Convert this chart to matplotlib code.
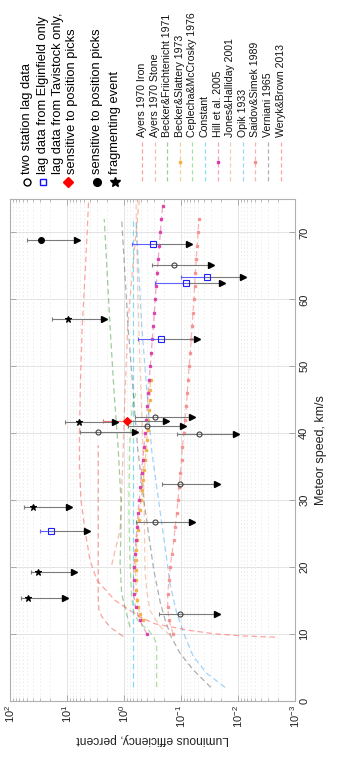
import numpy as np
import matplotlib
matplotlib.use("Agg")
import matplotlib.pyplot as plt

plt.rcParams['font.family'] = ['Liberation Sans', 'DejaVu Sans']
plt.rcParams['mathtext.fontset'] = 'custom'
plt.rcParams['mathtext.rm'] = 'Liberation Sans'
plt.rcParams['mathtext.it'] = 'Liberation Sans:italic'
plt.rcParams['mathtext.bf'] = 'Liberation Sans:bold'
plt.rcParams['lines.scale_dashes'] = False

# measured events: speed (km/s), efficiency, upper end, arrow end (percent)
two_v = [65.2, 42.45, 41.06, 40.1, 39.8, 32.4, 26.7, 12.96]
two_e = [0.134, 0.282, 0.400, 2.86, 0.0483, 0.103, 0.286, 0.104]
two_hi = [0.323, 0.641, 0.839, 5.91, 0.116, 0.213, 0.615, 0.243]
two_lo = [0.0301, 0.0634, 0.0912, 0.641, 0.011, 0.0231, 0.0634, 0.0231]

elg_v = [68.3, 63.4, 62.5, 54.1, 25.3]
elg_e = [0.306, 0.0354, 0.0807, 0.224, 19.3]
elg_hi = [0.733, 0.100, 0.282, 0.561, 29.4]
elg_lo = [0.0714, 0.00805, 0.0188, 0.0518, 4.41]

tav_v = [41.76]
tav_e = [0.875]
tav_hi = [2.31]
tav_lo = [0.183]

pos_v = [68.9]
pos_e = [28.9]
pos_hi = [50.9]
pos_lo = [6.76]

frag_v = [57.1, 41.66, 28.9, 19.3, 15.3]
frag_e = [9.48, 6.15, 40.0, 32.6, 48.3]
frag_hi = [18.5, 10.8, 56.1, 42.9, 64.9]
frag_lo = [2.22, 1.44, 9.22, 7.44, 10.8]

# model curves
ayers_iron_v = [9.6, 11, 12.6, 13.5, 15.5, 20, 25.5, 30, 38.2]
ayers_iron_e = [1.03, 1.76, 2.46, 2.75, 2.83, 2.83, 2.83, 2.83, 2.83]
ayers_stone_v = [20.3, 22.5, 25.5, 30, 38, 45, 56, 65, 74.8]
ayers_stone_e = [1.64, 1.43, 1.17, 1.11, 1.03, 0.97, 0.86, 0.70, 0.54]
becker_fr_v = [11, 12, 16, 20.5, 25.5, 30, 38, 46, 56, 72]
becker_fr_e = [0.785, 0.84, 1.10, 1.17, 1.13, 1.13, 1.27, 1.49, 1.76, 2.22]
becker_sl_v = [12, 13, 14, 15, 16.5, 18, 19.5, 21, 22.5, 24, 25.5, 27, 28.5,
               30, 31.5, 33, 34.5, 36, 37.5, 39, 40.5, 42, 43.5, 45, 46.5, 48]
becker_sl_e = [0.470, 0.524, 0.568, 0.591, 0.608, 0.621, 0.623, 0.621, 0.611,
               0.596, 0.573, 0.550, 0.528, 0.503, 0.480, 0.458, 0.439, 0.423,
               0.411, 0.398, 0.387, 0.375, 0.364, 0.354, 0.347, 0.340]
ceplecha_v = [2, 8.5, 9.6, 10.6, 11.3, 12.3, 13.5, 15.5, 20.5, 25.5, 30, 38, 44, 46]
ceplecha_e = [0.267, 0.267, 0.306, 0.375, 0.489, 0.599, 0.687, 0.733, 0.785,
              0.81, 0.82, 0.80, 0.72, 0.62]
const_v = [2, 72]
const_e = [0.7, 0.7]
hill_v = [10, 12, 14, 16, 18, 20, 22, 24, 26, 28, 30, 32, 34, 36, 38, 40, 42,
          44, 46, 48, 50, 52, 54, 56, 58, 60, 62, 64, 66, 68, 70, 72, 74]
hill_e = [0.400, 0.524, 0.628, 0.681, 0.681, 0.668, 0.641, 0.616, 0.591, 0.564,
          0.539, 0.516, 0.493, 0.470, 0.446, 0.423, 0.406, 0.390, 0.375, 0.360,
          0.346, 0.332, 0.319, 0.306, 0.294, 0.284, 0.272, 0.262, 0.251, 0.240,
          0.230, 0.220, 0.210]
jones_v = [9.8, 11.1, 13.5, 16.5, 19.5, 25, 30, 40, 50, 60, 70, 75]
jones_e = [0.156, 0.233, 0.35, 0.40, 0.428, 0.436, 0.445, 0.473, 0.524, 0.568,
           0.604, 0.615]
opik_v = [2, 4.1, 6.6, 9.6, 13.1, 17.5, 19.5, 37.4, 56, 72]
opik_e = [0.0169, 0.0354, 0.0608, 0.0851, 0.119, 0.156, 0.167, 0.327, 0.489, 0.615]
saidov_v = [10, 12, 14, 16, 18, 20, 22, 24, 26, 28, 30, 32, 34, 36, 38, 40,
            42, 44, 46, 48, 50, 52, 54, 56, 58, 60, 62, 64, 66, 68, 70, 72]
saidov_e = [0.1365, 0.1625, 0.171, 0.171, 0.1625, 0.154, 0.144, 0.134, 0.1264,
            0.119, 0.113, 0.1076, 0.1025, 0.098, 0.0942, 0.0893, 0.0858, 0.0811,
            0.0778, 0.0748, 0.0718, 0.0690, 0.0662, 0.0636, 0.0616, 0.0596,
            0.0577, 0.0558, 0.0541, 0.0522, 0.0503, 0.0483]
verniani_v = [2, 4.6, 7.1, 9.6, 12.1, 14.6, 19.5, 30, 38, 56, 72]
verniani_e = [0.030, 0.061, 0.104, 0.150, 0.19, 0.23, 0.30, 0.45, 0.58, 0.85, 1.10]
weryk_v = [9.5, 9.7, 10.0, 10.5, 11.5, 12.5, 15, 18, 21, 25.5, 30, 35, 40, 48,
           56, 65, 75]
weryk_e = [0.00224, 0.00923, 0.0254, 0.0695, 0.286, 0.524, 1.44, 2.98, 3.95,
           4.83, 5.68, 6.05, 6.05, 5.8, 5.4, 4.73, 4.16]

# label, speeds, values, line colour, marker colour
models = [
    ("Ayers 1970 Iron", ayers_iron_v, ayers_iron_e, "#e0504a", None),
    ("Ayers 1970 Stone", ayers_stone_v, ayers_stone_e, "#f07858", None),
    ("Becker&Friichtenicht 1971", becker_fr_v, becker_fr_e, "#3c9a3c", None),
    ("Becker&Slattery 1973", becker_sl_v, becker_sl_e, "#f0a030", "#f2b040"),
    ("Ceplecha&McCrosky 1976", ceplecha_v, ceplecha_e, "#58c040", None),
    ("Constant", const_v, const_e, "#10c0ec", None),
    ("Hill et al. 2005", hill_v, hill_e, "#e04c8c", "#d83ca8"),
    ("Jones&Halliday 2001", jones_v, jones_e, "#f09868", None),
    ("Opik 1933", opik_v, opik_e, "#4aa8f0", None),
    ("Saidov&Simek 1989", saidov_v, saidov_e, "#f06c6c", "#f49090"),
    ("Verniani 1965", verniani_v, verniani_e, "#606060", None),
    ("Weryk&Brown 2013", weryk_v, weryk_e, "#ff4848", None),
]

W, H = 344, 759
fig = plt.figure(figsize=(W / 100, H / 100), dpi=100)
ax = fig.add_axes([10 / W, (H - 700.7) / H, 285 / W, 501.7 / H])

dash = (4, 2.5)
for label, v, e, col, mcol in models:
    ax.plot(e, v, color=col, lw=0.9, alpha=0.5, dashes=dash, zorder=2)
    if mcol is not None:
        ax.plot(e, v, ls='none', marker='s', ms=1.8, color=mcol, alpha=0.9, zorder=3)

grey = "#7a7a7a"


def events(vv, ee, hi, lo, marker, mfc, mec, ms, barcol):
    for v, e, h, l in zip(vv, ee, hi, lo):
        ax.plot([e, l], [v, v], color=grey, lw=0.8, zorder=4)
        ax.plot([h, e], [v, v], color=barcol, lw=0.8, zorder=4)
        ax.plot([h], [v], marker='|', ms=3, mew=0.8, color=barcol, zorder=4)
        ax.plot([l], [v], marker='>', ms=4.6, color='black', zorder=5)
        ax.plot([e], [v], marker=marker, ms=ms, mfc=mfc, mec=mec, mew=0.8, zorder=6)


events(two_v, two_e, two_hi, two_lo, 'o', 'none', '#404040', 3.6, grey)
events(elg_v, elg_e, elg_hi, elg_lo, 's', 'none', '#2020ff', 3.7, '#6060ff')
events(tav_v, tav_e, tav_hi, tav_lo, 'D', 'red', 'red', 3.6, '#f07070')
events(pos_v, pos_e, pos_hi, pos_lo, 'o', 'black', 'black', 4.2, grey)
events(frag_v, frag_e, frag_hi, frag_lo, '*', 'black', 'black', 5, grey)

ax.set_xscale('log')
ax.set_xlim(1e2, 1e-3)
ax.set_ylim(0, 75)
ax.set_yticks([0, 10, 20, 30, 40, 50, 60, 70])
ax.set_xticks([1e2, 1e1, 1e0, 1e-1, 1e-2, 1e-3])

ax.grid(True, which='major', color='#e4e4e4', lw=0.7)
ax.grid(True, which='minor', axis='x', color='#e8e8e8', lw=0.6, ls=':')
ax.set_axisbelow(True)

for s in ax.spines.values():
    s.set_color('#b0b0b0')
    s.set_linewidth(0.8)
ax.tick_params(which='both', direction='in', color='#a0a0a0', top=True,
               bottom=True, left=True, right=True, labelleft=False,
               labelright=True, labelcolor='#222222', labelsize=8)
ax.tick_params(which='major', length=4.5, width=0.6)
ax.tick_params(which='minor', length=2.5, width=0.5)
ax.tick_params(axis='x', labelrotation=90, pad=3)
ax.tick_params(axis='y', labelrotation=90, pad=3)
for t in ax.get_yticklabels():
    t.set_va('center')

ax.yaxis.set_label_position('right')
ax.set_ylabel("Meteor speed, km/s", rotation=90, fontsize=9, labelpad=4,
              color='#222222')
ax.set_xlabel("Luminous efficiency, percent", rotation=180, fontsize=8.7,
              labelpad=4, color='#222222')

# legends drawn in pixel space, rotated like the plot
lg = fig.add_axes([0, 0, 1, 1], zorder=10)
lg.set_xlim(0, W)
lg.set_ylim(H, 0)
lg.axis('off')
lg.patch.set_visible(False)

ev_x = [27, 43, 68, 97, 115]
ev_txt = ["two station lag data", "lag data from Elginfield only",
          "lag data from Tavistock only,\nsensitive to position picks",
          "sensitive to position picks", "fragmenting event"]
ev_sty = [('o', 'none', 'black', 5), ('s', 'none', '#1010ff', 5),
          ('D', 'red', 'red', 5), ('o', 'black', 'black', 5.5),
          ('*', 'black', 'black', 7)]
for x, txt, (m, fc, ec, ms) in zip(ev_x, ev_txt, ev_sty):
    lg.plot([x], [181.5], marker=m, mfc=fc, mec=ec, ms=ms, mew=1.0)
    tx = 65 if "\n" in txt else x
    lg.text(tx, 174, txt, rotation=90, ha='center', va='bottom', fontsize=9.3,
            color='black', linespacing=1.3, multialignment='left')

for i, (label, v, e, col, mcol) in enumerate(models):
    x = 142 + 12.6 * i
    lg.plot([x, x], [142, 182], color=col, lw=0.9, alpha=0.5, dashes=(3, 2))
    if mcol is not None:
        lg.plot([x], [162], marker='s', ms=1.8, color=mcol)
    lg.text(x, 137, label, rotation=90, ha='center', va='bottom', fontsize=7.6,
            color='#111111')

fig.savefig("out.png", dpi=100)
